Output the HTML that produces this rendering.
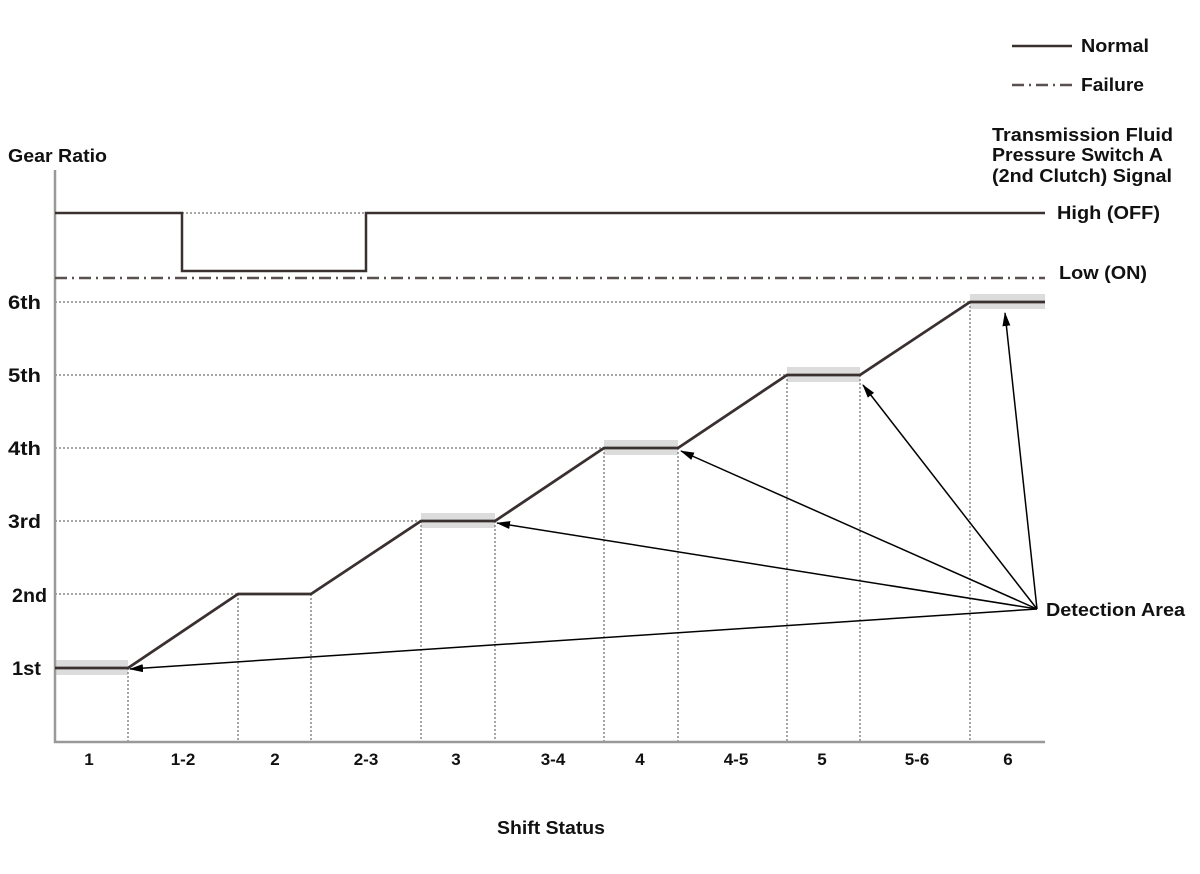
<!DOCTYPE html>
<html><head><meta charset="utf-8"><style>
html,body{margin:0;padding:0;background:#fff;}
svg{display:block;}
text{font-family:"Liberation Sans",Arial,sans-serif;font-weight:bold;fill:#111;}
</style></head><body>
<svg width="1200" height="874" viewBox="0 0 1200 874" xmlns="http://www.w3.org/2000/svg">
<defs>
<marker id="ah" markerWidth="14" markerHeight="8" refX="13" refY="4" orient="auto" markerUnits="userSpaceOnUse">
<path d="M0,0 L14,4 L0,8 Z" fill="#000"/>
</marker>
</defs>
<!-- gray bands -->
<g fill="#dcdcdc">
<rect x="55" y="660" width="73" height="15"/>
<rect x="421" y="513" width="74" height="15"/>
<rect x="604" y="440" width="74" height="15"/>
<rect x="787" y="367" width="73" height="15"/>
<rect x="970" y="294" width="75" height="15"/>
</g>
<!-- dotted guides -->
<g stroke="#888" stroke-width="1.5" stroke-dasharray="2,2" fill="none">
<line x1="55" y1="302" x2="970" y2="302"/>
<line x1="55" y1="375" x2="787" y2="375"/>
<line x1="55" y1="448" x2="604" y2="448"/>
<line x1="55" y1="521" x2="421" y2="521"/>
<line x1="55" y1="594" x2="238" y2="594"/>
<line x1="182" y1="213" x2="366" y2="213"/>
<line x1="128" y1="668" x2="128" y2="742"/>
<line x1="238" y1="594" x2="238" y2="742"/>
<line x1="311" y1="594" x2="311" y2="742"/>
<line x1="421" y1="521" x2="421" y2="742"/>
<line x1="495" y1="521" x2="495" y2="742"/>
<line x1="604" y1="448" x2="604" y2="742"/>
<line x1="678" y1="448" x2="678" y2="742"/>
<line x1="787" y1="375" x2="787" y2="742"/>
<line x1="860" y1="375" x2="860" y2="742"/>
<line x1="970" y1="302" x2="970" y2="742"/>
</g>
<!-- axes -->
<polyline points="55,170 55,742 1045,742" fill="none" stroke="#999" stroke-width="2.5"/>
<!-- failure dash-dot -->
<line x1="55" y1="278" x2="1045" y2="278" stroke="#5a5050" stroke-width="2.5" stroke-dasharray="12,5,2,5"/>
<!-- signal normal -->
<polyline points="55,213 182,213 182,271 366,271 366,213 1045,213" fill="none" stroke="#3a3030" stroke-width="2.5"/>
<!-- gear ratio -->
<polyline points="55,668 128,668 238,594 311,594 421,521 495,521 604,448 678,448 787,375 860,375 970,302 1045,302" fill="none" stroke="#3a3030" stroke-width="2.8" stroke-linejoin="round"/>
<!-- arrows -->
<g stroke="#000" stroke-width="1.5" fill="none" marker-end="url(#ah)">
<line x1="1037" y1="609" x2="130" y2="669"/>
<line x1="1037" y1="609" x2="497" y2="523"/>
<line x1="1037" y1="609" x2="681" y2="451"/>
<line x1="1037" y1="609" x2="863" y2="385"/>
<line x1="1037" y1="609" x2="1005" y2="313"/>
</g>
<!-- legend -->
<line x1="1012" y1="46" x2="1072" y2="46" stroke="#3a3030" stroke-width="2.5"/>
<line x1="1012" y1="85" x2="1072" y2="85" stroke="#5a5050" stroke-width="2.5" stroke-dasharray="12,5,2,5"/>
<g font-size="18" lengthAdjust="spacingAndGlyphs">
<text x="1081" y="52" textLength="68" lengthAdjust="spacingAndGlyphs">Normal</text>
<text x="1081" y="91" textLength="63" lengthAdjust="spacingAndGlyphs">Failure</text>
<text x="992" y="141" textLength="181" lengthAdjust="spacingAndGlyphs">Transmission Fluid</text>
<text x="992" y="161" textLength="171" lengthAdjust="spacingAndGlyphs">Pressure Switch A</text>
<text x="992" y="182" textLength="180" lengthAdjust="spacingAndGlyphs">(2nd Clutch) Signal</text>
<text x="1057" y="219" textLength="103" lengthAdjust="spacingAndGlyphs">High (OFF)</text>
<text x="1059" y="279" textLength="88" lengthAdjust="spacingAndGlyphs">Low (ON)</text>
<text x="1046" y="616" textLength="139" lengthAdjust="spacingAndGlyphs">Detection Area</text>
<text x="8" y="162" textLength="99" lengthAdjust="spacingAndGlyphs">Gear Ratio</text>
</g>
<!-- y labels -->
<g font-size="19">
<text x="8" y="309" textLength="33" lengthAdjust="spacingAndGlyphs">6th</text>
<text x="8" y="382" textLength="33" lengthAdjust="spacingAndGlyphs">5th</text>
<text x="8" y="455" textLength="33" lengthAdjust="spacingAndGlyphs">4th</text>
<text x="8" y="528" textLength="33" lengthAdjust="spacingAndGlyphs">3rd</text>
<text x="12" y="602" textLength="35" lengthAdjust="spacingAndGlyphs">2nd</text>
<text x="12" y="675" textLength="29" lengthAdjust="spacingAndGlyphs">1st</text>
</g>
<!-- x labels -->
<g font-size="17" text-anchor="middle">
<text x="89" y="765">1</text>
<text x="183" y="765">1-2</text>
<text x="275" y="765">2</text>
<text x="366" y="765">2-3</text>
<text x="456" y="765">3</text>
<text x="553" y="765">3-4</text>
<text x="640" y="765">4</text>
<text x="736" y="765">4-5</text>
<text x="822" y="765">5</text>
<text x="917" y="765">5-6</text>
<text x="1008" y="765">6</text>
</g>
<text x="497" y="834" font-size="18" textLength="108" lengthAdjust="spacingAndGlyphs">Shift Status</text>
</svg>
</body></html>
